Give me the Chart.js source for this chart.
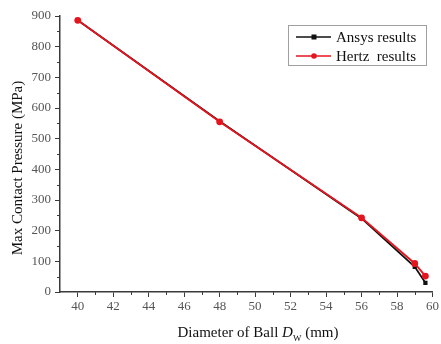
<!DOCTYPE html>
<html><head><meta charset="utf-8">
<script src="https://cdn.jsdelivr.net/npm/chart.js@4/dist/chart.umd.min.js"></script>
<style>html,body{margin:0;padding:0;background:#fff}#wrap{width:441px;height:344px;position:relative}</style>
</head><body><div id="wrap"><canvas id="c" width="441" height="344"></canvas></div>
<script>
const diameters = [40, 48, 56, 59, 59.6];
const ansysResults = [886, 557, 240, 82, 30];
const hertzResults = [886, 555, 242, 93, 52];
const xTickValues = [40, 42, 44, 46, 48, 50, 52, 54, 56, 58, 60];
const xMinorValues = [41, 43, 45, 47, 49, 51, 53, 55, 57, 59];
const yTickValues = [0, 100, 200, 300, 400, 500, 600, 700, 800, 900];
const yMinorValues = [50, 150, 250, 350, 450, 550, 650, 750, 850];
const seriesNames = ['Ansys results', 'Hertz  results'];
const yTitle = 'Max Contact Pressure (MPa)';

const SERIF = '"Liberation Serif", "Times New Roman", serif';
const AXIS = '#3a3a3a';
const RED = '#e5151f';

const extras = {
  id: 'extras',
  afterDraw(chart) {
    const ctx = chart.ctx, xs = chart.scales.x, ys = chart.scales.y, a = chart.chartArea;
    ctx.save();
    ctx.strokeStyle = AXIS; ctx.lineWidth = 1;
    xMinorValues.forEach(v => { const p = Math.round(xs.getPixelForValue(v)) + 0.5; ctx.beginPath(); ctx.moveTo(p, a.bottom); ctx.lineTo(p, a.bottom + 3); ctx.stroke(); });
    yMinorValues.forEach(v => { const p = Math.round(ys.getPixelForValue(v)) + 0.5; ctx.beginPath(); ctx.moveTo(a.left - 3, p); ctx.lineTo(a.left, p); ctx.stroke(); });
    // y title
    ctx.fillStyle = '#111';
    ctx.font = '15px ' + SERIF;
    ctx.textAlign = 'center'; ctx.textBaseline = 'middle';
    ctx.save(); ctx.translate(18, 168); ctx.rotate(-Math.PI / 2); ctx.fillText(yTitle, 0, 0); ctx.restore();
    // x title with italic D and subscript W
    const parts = [
      {t: 'Diameter of Ball ', f: '15px ' + SERIF, dy: 0},
      {t: 'D', f: 'italic 15px ' + SERIF, dy: 0},
      {t: 'W', f: '9px ' + SERIF, dy: 4},
      {t: ' (mm)', f: '15px ' + SERIF, dy: 0}
    ];
    let total = 0;
    parts.forEach(p => { ctx.font = p.f; p.w = ctx.measureText(p.t).width; total += p.w; });
    let x0 = 258 - total / 2;
    ctx.textAlign = 'left'; ctx.textBaseline = 'alphabetic';
    parts.forEach(p => { ctx.font = p.f; ctx.fillText(p.t, x0, 337 + p.dy); x0 += p.w; });
    // legend
    const lx = 288, ly = 25, lw = 138, lh = 40;
    ctx.fillStyle = '#fff'; ctx.fillRect(lx, ly, lw, lh);
    ctx.strokeStyle = '#a0a0a0'; ctx.lineWidth = 1; ctx.strokeRect(lx + 0.5, ly + 0.5, lw, lh);
    chart.data.datasets.forEach((ds, i) => {
      const yy = ly + 12 + i * 19;
      ctx.strokeStyle = ds.borderColor; ctx.lineWidth = 1.5;
      ctx.beginPath(); ctx.moveTo(296, yy); ctx.lineTo(331, yy); ctx.stroke();
      ctx.fillStyle = ds.borderColor;
      if (ds.pointStyle === 'rect') { ctx.fillRect(311.5, yy - 2.5, 5, 5); }
      else { ctx.beginPath(); ctx.arc(314, yy, 2.8, 0, Math.PI * 2); ctx.fill(); }
      ctx.fillStyle = '#111'; ctx.font = '15px ' + SERIF; ctx.textBaseline = 'middle';
      ctx.fillText(ds.label, 336, yy + 1);
    });
    ctx.restore();
  }
};

new Chart(document.getElementById('c'), {
  type: 'line',
  data: {
    datasets: [
      {label: seriesNames[0], order: 1, data: diameters.map((d, i) => ({x: d, y: ansysResults[i]})), borderColor: '#111', backgroundColor: '#111', borderWidth: 1.8, pointStyle: 'rect', pointRadius: 3, pointBorderWidth: 0},
      {label: seriesNames[1], order: 0, data: diameters.map((d, i) => ({x: d, y: hertzResults[i]})), borderColor: RED, backgroundColor: RED, borderWidth: 1.8, pointStyle: 'circle', pointRadius: 3.4, pointBorderWidth: 0}
    ]
  },
  options: {
    responsive: false, animation: false,
    layout: {padding: {left: 0, top: 16, right: 8, bottom: 0}},
    plugins: {legend: {display: false}, tooltip: {enabled: false}},
    scales: {
      x: {
        type: 'linear', min: 39, max: 60,
        afterBuildTicks: s => { s.ticks = xTickValues.map(v => ({value: v})); },
        afterFit: s => { s.height = 52; },
        border: {color: AXIS, width: 1.5},
        grid: {drawOnChartArea: false, drawTicks: true, tickLength: 5, tickColor: AXIS},
        ticks: {color: '#555', font: {family: SERIF, size: 13}, padding: 2, maxRotation: 0}
      },
      y: {
        type: 'linear', min: 0, max: 900,
        afterBuildTicks: s => { s.ticks = yTickValues.map(v => ({value: v})); },
        afterFit: s => { s.width = 60; },
        border: {color: AXIS, width: 1.5},
        grid: {drawOnChartArea: false, drawTicks: true, tickLength: 5, tickColor: AXIS},
        ticks: {color: '#555', font: {family: SERIF, size: 13}, padding: 4}
      }
    }
  },
  plugins: [extras]
});
</script></body></html>
